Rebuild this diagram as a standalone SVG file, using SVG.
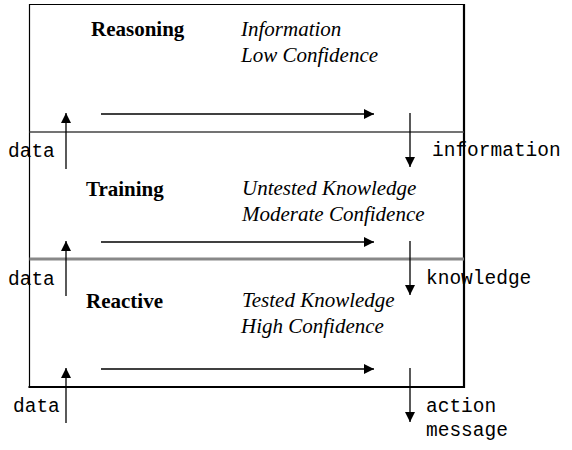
<svg xmlns="http://www.w3.org/2000/svg" width="572" height="450" viewBox="0 0 572 450">
<defs>
<style>
.b{font-family:"Liberation Serif",serif;font-weight:bold;font-size:21px;fill:#000}
.i{font-family:"Liberation Serif",serif;font-style:italic;font-size:21px;fill:#000}
.m{font-family:"Liberation Mono",monospace;font-size:19.5px;fill:#000}
.a{stroke:#000;stroke-width:1.3;fill:none}
</style>
<marker id="ah" viewBox="0 0 10 10" refX="10" refY="5" markerWidth="10" markerHeight="10" markerUnits="userSpaceOnUse" orient="auto">
<path d="M0,0 L10,5 L0,10 Z" fill="#000"/>
</marker>
</defs>
<rect width="572" height="450" fill="#fff"/>
<g id="frame">
<line x1="29.5" y1="4.5" x2="464" y2="4.5" stroke="#000" stroke-width="1.2"/>
<line x1="29.5" y1="4" x2="29.5" y2="388" stroke="#000" stroke-width="1.2"/>
<line x1="464" y1="4" x2="464" y2="388" stroke="#000" stroke-width="2.2"/>
<line x1="28.5" y1="387" x2="465" y2="387" stroke="#000" stroke-width="2.2"/>
<line x1="29.5" y1="132" x2="464" y2="132" stroke="#444" stroke-width="1.3"/>
<line x1="29.5" y1="259" x2="464" y2="259" stroke="#888" stroke-width="3"/>
</g>
<g id="reasoning">
<text class="b" x="91" y="36">Reasoning</text>
<text class="i" x="241" y="36">Information</text>
<text class="i" x="241" y="62">Low Confidence</text>
</g>
<g id="training">
<text class="b" x="86" y="196">Training</text>
<text class="i" x="242" y="195">Untested Knowledge</text>
<text class="i" x="242" y="221">Moderate Confidence</text>
</g>
<g id="reactive">
<text class="b" x="86" y="308">Reactive</text>
<text class="i" x="242" y="307">Tested Knowledge</text>
<text class="i" x="241" y="333">High Confidence</text>
</g>
<g id="connectors">
<line class="a" x1="66" y1="169" x2="66" y2="113" marker-end="url(#ah)"/>
<line class="a" x1="101" y1="114" x2="374" y2="114" stroke="#555" marker-end="url(#ah)"/>
<line class="a" x1="410" y1="113" x2="410" y2="167" marker-end="url(#ah)"/>
<line class="a" x1="66" y1="296" x2="66" y2="241" marker-end="url(#ah)"/>
<line class="a" x1="101" y1="242" x2="374" y2="242" marker-end="url(#ah)"/>
<line class="a" x1="410" y1="241" x2="410" y2="295" marker-end="url(#ah)"/>
<line class="a" x1="66" y1="423" x2="66" y2="368" marker-end="url(#ah)"/>
<line class="a" x1="101" y1="369" x2="374" y2="369" stroke="#666" stroke-width="1.6" marker-end="url(#ah)"/>
<line class="a" x1="410" y1="368" x2="410" y2="422" marker-end="url(#ah)"/>
</g>
<g id="labels">
<text class="m" x="8" y="157">data</text>
<text class="m" x="432" y="156">information</text>
<text class="m" x="8" y="285">data</text>
<text class="m" x="426" y="284">knowledge</text>
<text class="m" x="13" y="412">data</text>
<text class="m" x="426" y="412">action</text>
<text class="m" x="426" y="436">message</text>
</g>
</svg>
